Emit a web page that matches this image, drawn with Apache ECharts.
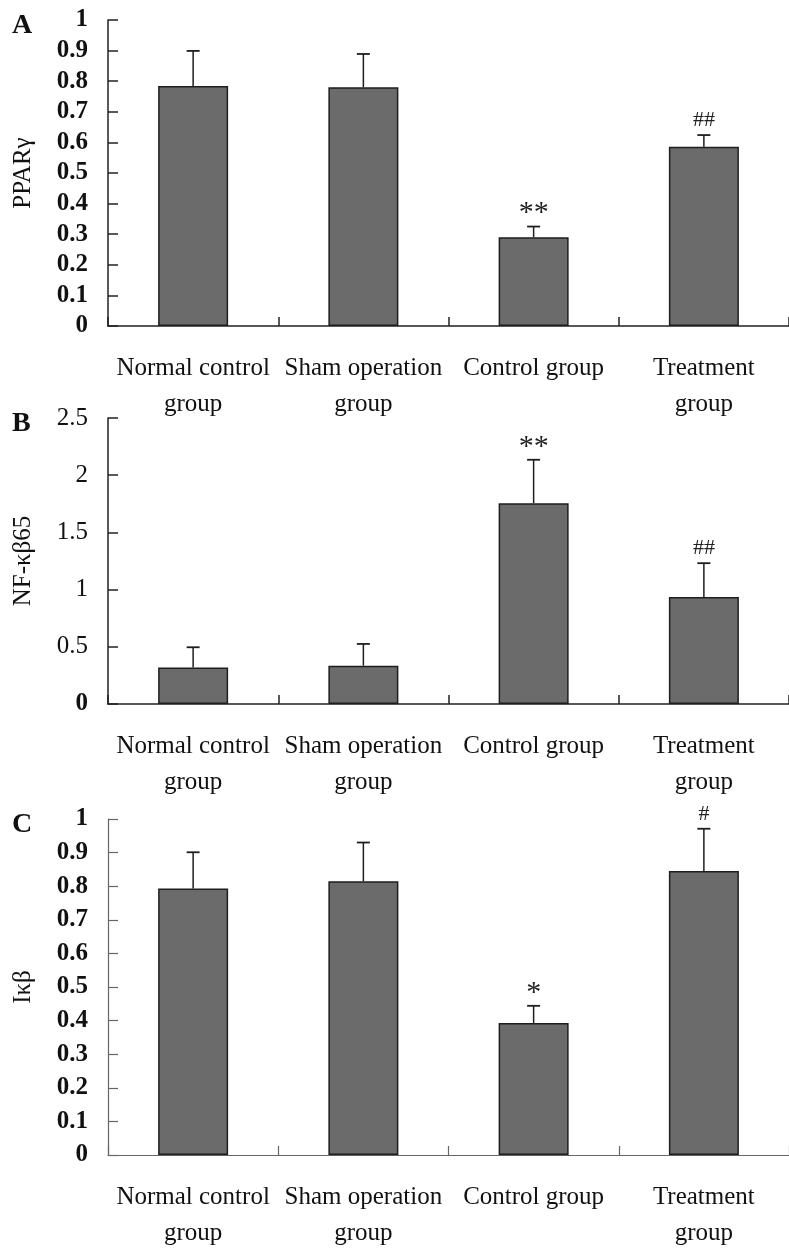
<!DOCTYPE html>
<html>
<head>
<meta charset="utf-8">
<script src="https://cdn.jsdelivr.net/npm/echarts@6/dist/echarts.min.js"></script>
<style>
html,body{margin:0;padding:0;background:#fff;}
#chart{width:789px;height:1251px;}
</style>
</head>
<body>
<div id="chart"></div>
<script>
// ---- data ----
const categories = ['Normal control\ngroup', 'Sham operation\ngroup', 'Control group', 'Treatment\ngroup'];

const pparMean = [0.784, 0.780, 0.290, 0.586];
const pparErr  = [0.115, 0.109, 0.035, 0.038];
const pparMarks = ['', '', '**', '##'];

const nfkbMean = [0.320, 0.335, 1.755, 0.936];
const nfkbErr  = [0.176, 0.190, 0.380, 0.295];
const nfkbMarks = ['', '', '**', '##'];

const ikbMean = [0.793, 0.815, 0.393, 0.845];
const ikbErr  = [0.108, 0.115, 0.051, 0.126];
const ikbMarks = ['', '', '*', '#'];

const panelLetters = ['A', 'B', 'C'];
const axisNames = ['PPARγ', 'NF-κβ65', 'Iκβ'];
const yMax = [1, 2.5, 1];
const yStep = [0.1, 0.5, 0.1];

// ---- chart ----
const FONT = "'Liberation Serif', 'Times New Roman', serif";
const chart = echarts.init(document.getElementById('chart'));

const panels = [
  {mean: pparMean, err: pparErr, marks: pparMarks, top: 20, height: 306, bold: true, axisColor: '#222', axisW: 1.5},
  {mean: nfkbMean, err: nfkbErr, marks: nfkbMarks, top: 418, height: 286, bold: false, axisColor: '#222', axisW: 1.5},
  {mean: ikbMean, err: ikbErr, marks: ikbMarks, top: 819, height: 340, bold: true, axisColor: '#666', axisW: 1.2}
];

const grid = [], xAxis = [], yAxis = [], series = [], graphic = [];

panels.forEach((p, i) => {
  grid.push({left: 108, right: -5, top: p.top, height: p.height, containLabel: false});
  xAxis.push({
    type: 'category', gridIndex: i, data: categories,
    axisLine: {lineStyle: {color: p.axisColor, width: p.axisW}},
    axisTick: {show: true, inside: true, length: 9, alignWithLabel: false, lineStyle: {color: p.axisColor, width: p.axisW}},
    axisLabel: {color: '#111', fontFamily: FONT, fontSize: 25, lineHeight: 36, margin: 24, interval: 0},
    splitLine: {show: false}
  });
  yAxis.push({
    type: 'value', gridIndex: i, min: 0, max: yMax[i], interval: yStep[i],
    name: axisNames[i], nameLocation: 'middle', nameRotate: 90, nameGap: 72,
    nameTextStyle: {color: '#111', fontFamily: FONT, fontSize: 25},
    axisLine: {show: true, lineStyle: {color: p.axisColor, width: p.axisW}},
    axisTick: {show: true, inside: true, length: 10, lineStyle: {color: p.axisColor, width: p.axisW}},
    axisLabel: {
      color: '#111', fontFamily: FONT, fontSize: 25, margin: 20,
      fontWeight: p.bold ? 'bold' : 'normal',
      formatter: (v) => {
        const s = String(+v.toFixed(2));
        return (!p.bold && v === 0) ? '{b|' + s + '}' : s;
      },
      rich: {b: {fontFamily: FONT, fontSize: 25, fontWeight: 'bold', color: '#111'}}
    },
    splitLine: {show: false}
  });
  series.push({
    type: 'bar', xAxisIndex: i, yAxisIndex: i, data: p.mean, barWidth: 70,
    itemStyle: {color: '#6b6b6b', borderColor: '#1e1e1e', borderWidth: 1.5},
    z: 2
  });
  const errData = p.mean.map((m, k) => [k, m, m + p.err[k]]);
  series.push({
    type: 'custom', xAxisIndex: i, yAxisIndex: i, data: errData, z: 3,
    renderItem: (params, api) => {
      const k = api.value(0);
      const p0 = api.coord([k, api.value(1)]);
      const p1 = api.coord([k, api.value(2)]);
      const mark = p.marks[params.dataIndex];
      const children = [
        {type: 'line', shape: {x1: p0[0], y1: p0[1], x2: p1[0], y2: p1[1]}, style: {stroke: '#1e1e1e', lineWidth: 1.5}},
        {type: 'line', shape: {x1: p1[0] - 6.5, y1: p1[1], x2: p1[0] + 6.5, y2: p1[1]}, style: {stroke: '#1e1e1e', lineWidth: 1.8}}
      ];
      if (mark) {
        const isStar = mark.indexOf('*') >= 0;
        children.push({
          type: 'text',
          style: {
            text: mark, x: p1[0], y: isStar ? p1[1] + 2 : p1[1] - 4,
            align: 'center', verticalAlign: 'bottom',
            fontFamily: FONT, fontSize: isStar ? 30 : 22, fill: '#222'
          }
        });
      }
      return {type: 'group', children: children};
    }
  });
  graphic.push({
    type: 'text', left: 12, top: p.top - 8,
    style: {text: panelLetters[i], fontFamily: FONT, fontSize: 28, fontWeight: 'bold', fill: '#111'}
  });
});

chart.setOption({
  animation: false,
  backgroundColor: '#fff',
  grid, xAxis, yAxis, series, graphic
});
</script>
</body>
</html>
